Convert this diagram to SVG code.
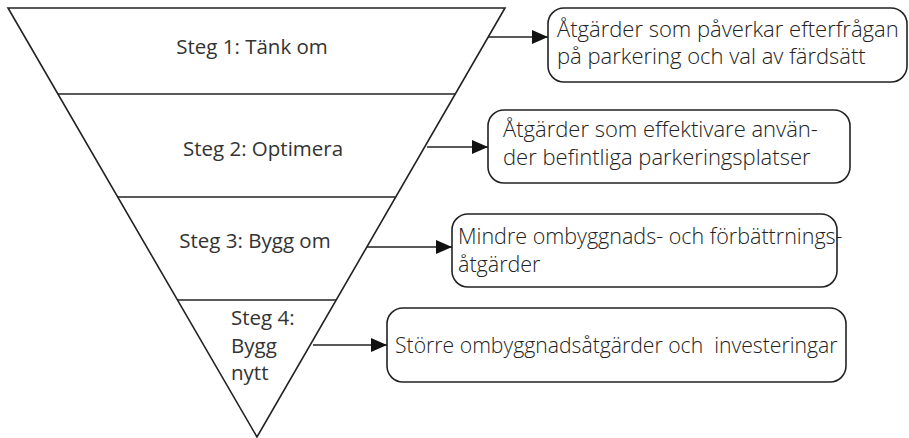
<svg xmlns="http://www.w3.org/2000/svg" width="909" height="438" viewBox="0 0 909 438">
<style>
.ln{stroke:#222;stroke-width:1.6;fill:none}
.bx{stroke:#222;stroke-width:1.6;fill:#fff}
.tl{font-family:"Open Sans",sans-serif;font-size:20.5px;fill:#333}
.tr{font-family:"Open Sans",sans-serif;font-size:22px;font-weight:300;fill:#222;white-space:pre}
</style>
<defs>
<marker id="ah" viewBox="0 0 16 14" refX="16" refY="7" markerWidth="16" markerHeight="14" markerUnits="userSpaceOnUse" orient="auto">
<path d="M0,0 L16,7 L0,14 Z" fill="#111"/>
</marker>
</defs>
<rect width="909" height="438" fill="#fff"/>
<g id="funnel">
<path class="ln" d="M8,8 L505,8 L257,437 Z"/>
<line class="ln" x1="58" y1="94" x2="455" y2="94"/>
<line class="ln" x1="118" y1="197" x2="395" y2="197"/>
<line class="ln" x1="177" y1="300" x2="336" y2="300"/>
</g>
<g id="step1"><text class="tl" x="252" y="54" text-anchor="middle">Steg 1: Tänk om</text></g>
<g id="step2"><text class="tl" x="263" y="156" text-anchor="middle">Steg 2: Optimera</text></g>
<g id="step3"><text class="tl" x="255" y="248" text-anchor="middle">Steg 3: Bygg om</text></g>
<g id="step4"><text class="tl" x="231" y="325">Steg 4:</text><text class="tl" x="231" y="353">Bygg</text><text class="tl" x="231" y="380">nytt</text></g>
<g id="box1"><rect class="bx" x="548" y="8" width="359" height="74" rx="16"/>
<text class="tr" x="557" y="37">Åtgärder som påverkar efterfrågan</text>
<text class="tr" x="557" y="64">på parkering och val av färdsätt</text></g>
<g id="box2"><rect class="bx" x="488" y="110" width="362" height="73" rx="16"/>
<text class="tr" x="503" y="137">Åtgärder som effektivare använ-</text>
<text class="tr" x="503" y="165">der befintliga parkeringsplatser</text></g>
<g id="box3"><rect class="bx" x="452" y="214" width="385" height="73" rx="16"/>
<text class="tr" x="458" y="244" style="font-size:21.5px">Mindre ombyggnads- och förbättrnings-</text>
<text class="tr" x="458" y="272" style="font-size:21.5px">åtgärder</text></g>
<g id="box4"><rect class="bx" x="387" y="308" width="459" height="74" rx="16"/>
<text class="tr" x="395" y="353" style="font-size:21.2px" xml:space="preserve">Större ombyggnadsåtgärder och  investeringar</text></g>
<g id="connectors">
<line class="ln" x1="488" y1="37" x2="548" y2="37" marker-end="url(#ah)"/>
<line class="ln" x1="427" y1="147" x2="488" y2="147" marker-end="url(#ah)"/>
<line class="ln" x1="367" y1="247" x2="452" y2="247" marker-end="url(#ah)"/>
<line class="ln" x1="313" y1="345" x2="387" y2="345" marker-end="url(#ah)"/>
</g>
</svg>
